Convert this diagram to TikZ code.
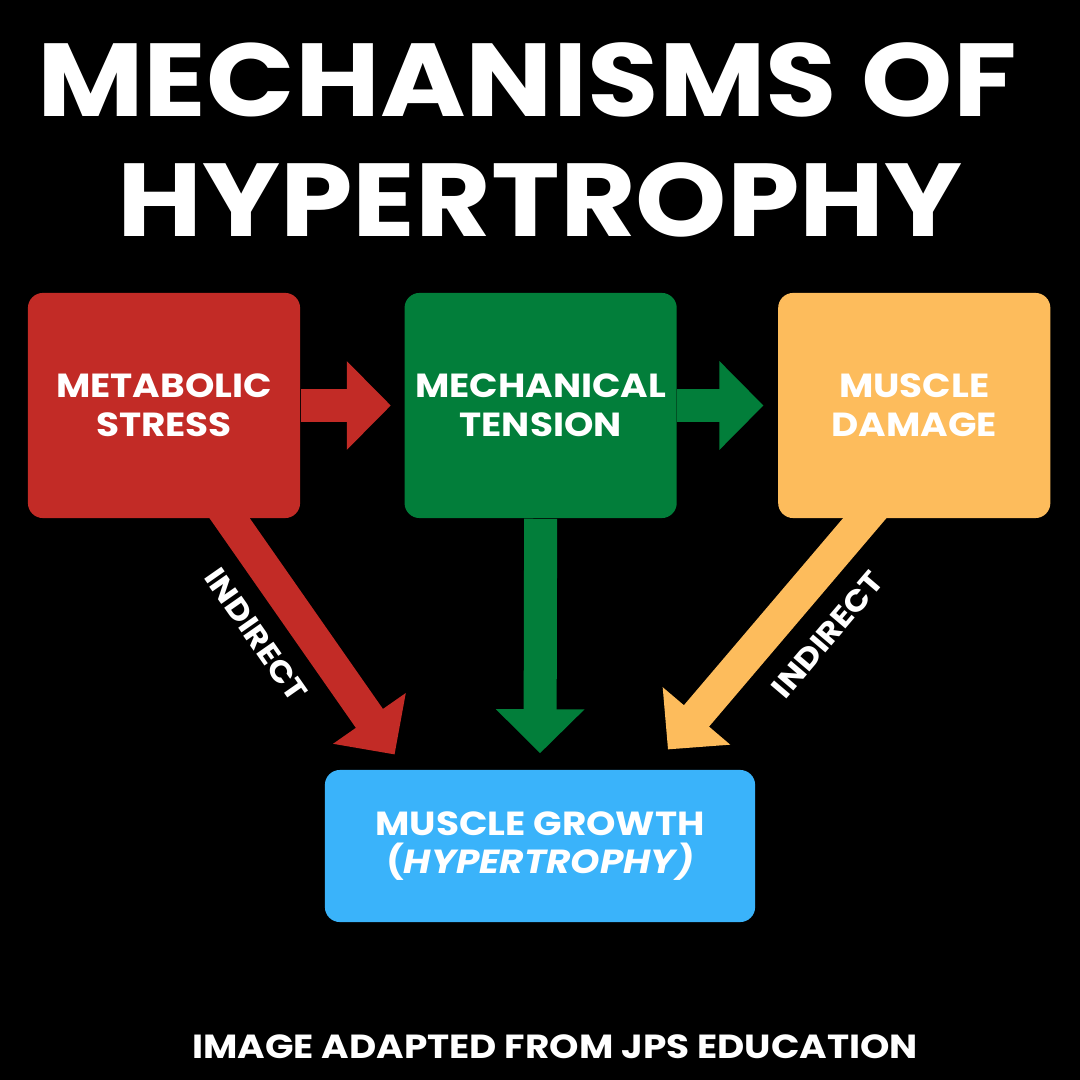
\documentclass[tikz,border=0pt]{standalone}
\usepackage{fontspec}
\setmainfont{Poppins}[FakeStretch=1.12]
\usetikzlibrary{arrows.meta,positioning}
\definecolor{stressred}{HTML}{C22B26}
\definecolor{tensiongreen}{HTML}{027E3A}
\definecolor{damageorange}{HTML}{FDBC5C}
\definecolor{growthblue}{HTML}{3AB3FA}
\tikzset{
  mech/.style={rounded corners=0.15cm, minimum width=2.72cm, minimum height=2.25cm, align=center, text=white, font=\fontsize{9.5}{11}\selectfont\bfseries, inner sep=0pt},
  headline/.style={text=white, font=\fontsize{29.5}{34}\selectfont\bfseries, inner sep=0pt, anchor=base},
  tag/.style={text=white, font=\fontsize{8.5}{10}\selectfont\bfseries, inner sep=0pt},
  push/.style={line width=0.33cm, -{Triangle[length=0.44cm,width=0.86cm]}},
}
\begin{document}
\begin{tikzpicture}[x=0.01cm, y=-0.01cm]
    \fill[black] (0,0) rectangle (1080,1080);
    \useasboundingbox (0,0) rectangle (1080,1080);
    % title
    \node[headline] (title1) at (527,117) {MECHANISMS OF};
    \node[headline] (title2) at (540,237) {HYPERTROPHY};
    % the three mechanisms
    \node[mech, fill=stressred] (ms) at (164,405.5) {METABOLIC\\ STRESS};
    \node[mech, fill=tensiongreen, right=1.03cm of ms] (mt) {MECHANICAL\\ TENSION};
    \node[mech, fill=damageorange, right=1cm of mt] (md) {MUSCLE\\ DAMAGE};
    \node[mech, fill=growthblue, minimum width=4.3cm, minimum height=1.52cm] (mg) at (540,846)
      {MUSCLE GROWTH\\ (\textit{HYPERTROPHY)}};
    % arrows
    \draw[push, stressred, shorten >=0.13cm] (ms) -- (mt);
    \draw[push, tensiongreen, shorten >=0.14cm] (mt) -- (md);
    \draw[push, tensiongreen, shorten >=0.16cm] (mt.south) -- (mg.north);
    \draw[push, stressred, shorten <=-0.3cm, shorten >=0.18cm] ([xshift=0.66cm]ms.south) -- ([xshift=-1.35cm]mg.north)
      node[tag, sloped, below=0.18cm, pos=0.36] (ind1) {INDIRECT};
    \draw[push, damageorange, shorten <=-0.3cm, shorten >=0.26cm] ([xshift=-0.5cm]md.south) -- ([xshift=1.11cm]mg.north)
      node[tag, sloped, below=0.2cm, pos=0.34] (ind2) {INDIRECT};
    % source
    \node[headline, font=\fontsize{9.5}{11}\selectfont\bfseries] (credit) at (555,1058) {IMAGE ADAPTED FROM JPS EDUCATION};
  \end{tikzpicture}
\end{document}
